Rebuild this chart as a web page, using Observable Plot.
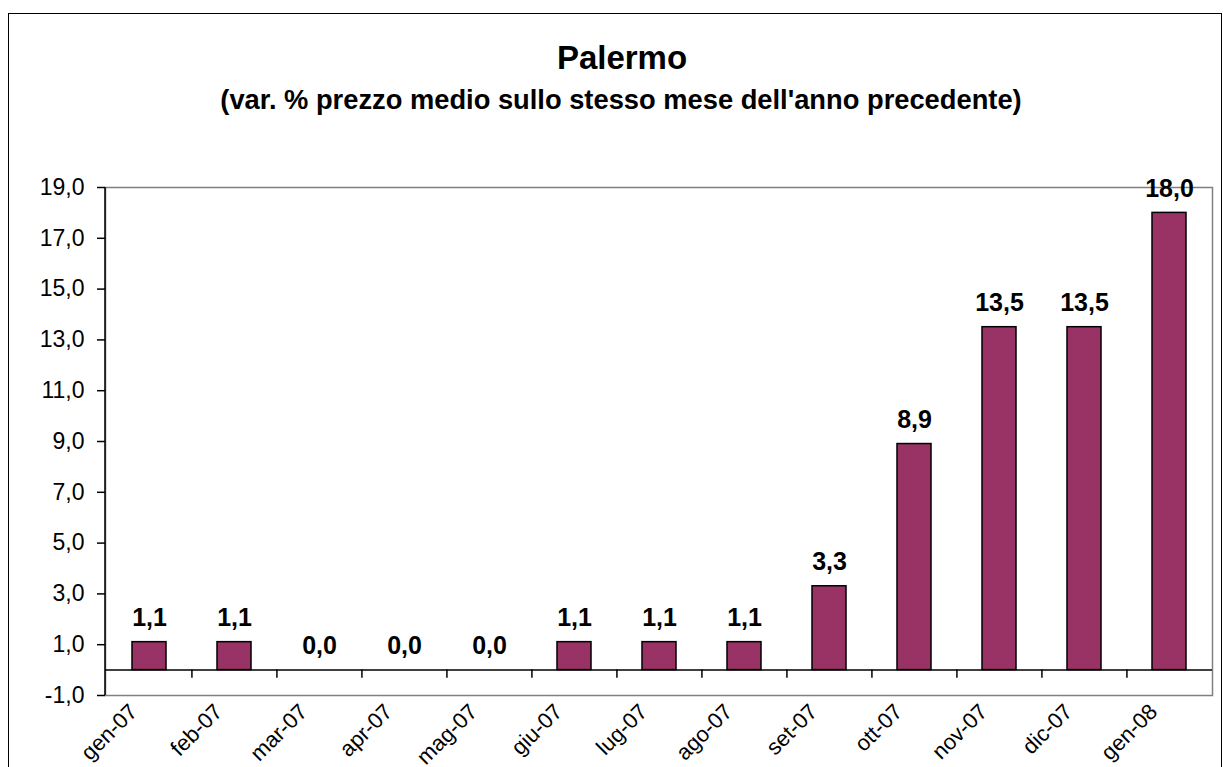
<!DOCTYPE html>
<html>
<head>
<meta charset="utf-8">
<script src="https://cdn.jsdelivr.net/npm/d3@7"></script>
<script src="https://cdn.jsdelivr.net/npm/@observablehq/plot@0.6"></script>
<style>
  html, body { margin: 0; padding: 0; background: #fff; overflow: hidden; }
  #wrap { position: relative; width: 1223px; height: 767px; font-family: "Liberation Sans", Arial, sans-serif; }
  #border { position: absolute; left: 8px; top: 13px; width: 1214px; height: 800px; border: 1.5px solid #000; box-sizing: border-box; }
  #chart { position: absolute; left: 0; top: 0; }
</style>
</head>
<body>
<div id="wrap"><div id="border"></div><div id="chart"></div></div>
<script>
const categories = ["gen-07","feb-07","mar-07","apr-07","mag-07","giu-07","lug-07","ago-07","set-07","ott-07","nov-07","dic-07","gen-08"];
const values = [1.1, 1.1, 0.0, 0.0, 0.0, 1.1, 1.1, 1.1, 3.3, 8.9, 13.5, 13.5, 18.0];
const yTicks = [-1, 1, 3, 5, 7, 9, 11, 13, 15, 17, 19];
const title = "Palermo";
const subtitle = "(var. % prezzo medio sullo stesso mese dell'anno precedente)";

const data = categories.map((c, i) => ({month: c, value: values[i]}));
const fmt = d => d.toFixed(1).replace(".", ",");
const W = 1223, H = 767;
const mL = 105, mR = 11, mT = 187, mB = 72;
const step = (W - mL - mR) / categories.length;

const leftAxisLine = (index, scales, values, dims) => {
  const g = d3.create("svg:line")
    .attr("x1", dims.marginLeft).attr("x2", dims.marginLeft)
    .attr("y1", dims.marginTop).attr("y2", dims.height - dims.marginBottom)
    .attr("stroke", "black").attr("stroke-width", 1.5);
  return g.node();
};

const chart = Plot.plot({
  width: W,
  height: H,
  marginLeft: mL,
  marginRight: mR,
  marginTop: mT,
  marginBottom: mB,
  style: {fontFamily: "'Liberation Sans', Arial, sans-serif", background: "transparent", overflow: "visible"},
  x: {domain: categories, paddingInner: 0.6, paddingOuter: 0.3, axis: null},
  y: {domain: [-1, 19], axis: null},
  marks: [
    Plot.frame({stroke: "#808080", strokeWidth: 1.5}),
    Plot.barY(data, {x: "month", y: "value", fill: "#993366", stroke: "black", strokeWidth: 1.5}),
    Plot.ruleY([0], {stroke: "black", strokeWidth: 1.5}),
    Plot.ruleX(categories.slice(1), {x: d => d, dx: -step / 2, y1: 0, y2: -0.32, stroke: "black", strokeWidth: 1.5}),
    leftAxisLine,
    Plot.axisY({ticks: yTicks, tickFormat: fmt, tickSize: 8, tickPadding: 13, fontSize: 23, label: null, stroke: "black", strokeWidth: 1.5}),
    Plot.text(data, {x: "month", y: "value", text: d => fmt(d.value), fontSize: 25, fontWeight: "bold", lineAnchor: "bottom", dy: -16, fill: "black"}),
    Plot.text(categories, {x: d => d, frameAnchor: "bottom", rotate: -45, textAnchor: "end", lineAnchor: "top", dx: -22, dy: 6.5, fontSize: 22, fill: "black"}),
    Plot.text([title], {frameAnchor: "top", dx: -37, dy: -119, lineAnchor: "bottom", fontSize: 33, fontWeight: "bold", fill: "black"}),
    Plot.text([subtitle], {frameAnchor: "top", dx: -38, dy: -79, lineAnchor: "bottom", fontSize: 27.3, fontWeight: "bold", fill: "black"})
  ]
});
document.getElementById("chart").appendChild(chart);
</script>
</body>
</html>
